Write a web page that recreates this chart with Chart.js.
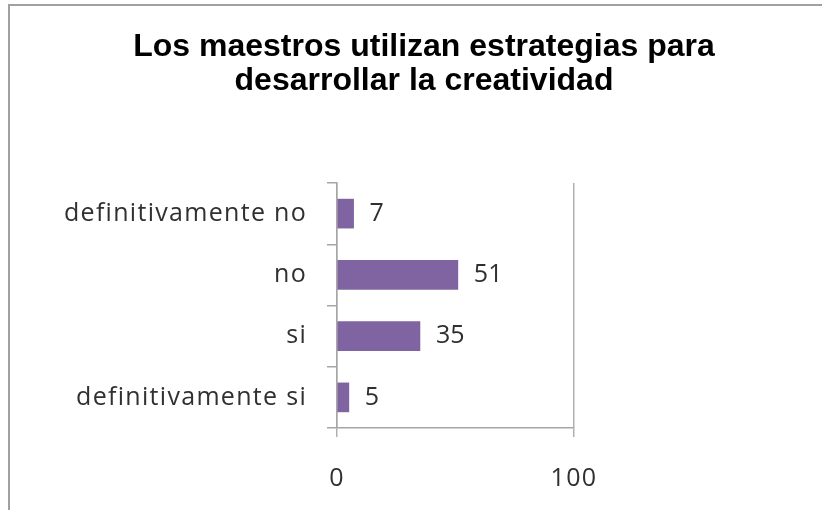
<!DOCTYPE html>
<html>
<head>
<meta charset="utf-8">
<script src="https://cdn.jsdelivr.net/npm/chart.js@4"></script>
<style>
html,body{margin:0;padding:0;background:#fff;}
#wrap{position:absolute;left:0;top:0;width:822px;height:510px;}
</style>
</head>
<body>
<div id="wrap"><canvas id="c" width="822" height="510"></canvas></div>
<script>
const titleLines = ["Los maestros utilizan estrategias para", "desarrollar la creatividad"];
const categories = ["definitivamente no", "no", "si", "definitivamente si"];
const values = [7, 51, 35, 5];
const xTicks = [0, 100];

const LABEL_FONT = "'Open Sans', Lato, sans-serif";
const LABEL_SIZE = 25;
const LABEL_COLOR = '#303030';

const framePlugin = {
  id: 'frame',
  beforeDraw(chart) {
    const ctx = chart.ctx;
    ctx.save();
    ctx.fillStyle = '#ffffff';
    ctx.fillRect(0, 0, chart.width, chart.height);
    ctx.strokeStyle = '#a0a0a0';
    ctx.lineWidth = 2;
    ctx.beginPath();
    ctx.moveTo(9, chart.height);
    ctx.lineTo(9, 5);
    ctx.lineTo(chart.width, 5);
    ctx.stroke();
    ctx.restore();
    ctx.letterSpacing = '1.3px';
  }
};

const titlePlugin = {
  id: 'customTitle',
  afterDraw(chart) {
    const ctx = chart.ctx;
    ctx.save();
    ctx.letterSpacing = '0px';
    ctx.fillStyle = '#000000';
    ctx.font = "bold 32px 'Liberation Sans', Arial, sans-serif";
    ctx.textAlign = 'center';
    ctx.textBaseline = 'alphabetic';
    ctx.fillText(titleLines[0], 424, 56);
    ctx.fillText(titleLines[1], 424, 90);
    ctx.restore();
  }
};

const valueLabelPlugin = {
  id: 'valueLabels',
  afterDatasetsDraw(chart) {
    const ctx = chart.ctx;
    const meta = chart.getDatasetMeta(0);
    ctx.save();
    ctx.letterSpacing = '0px';
    ctx.fillStyle = LABEL_COLOR;
    ctx.font = LABEL_SIZE + "px " + LABEL_FONT;
    ctx.textAlign = 'left';
    ctx.textBaseline = 'middle';
    meta.data.forEach((bar, i) => {
      ctx.fillText(String(values[i]), bar.x + 16, bar.y);
    });
    ctx.restore();
  }
};

new Chart(document.getElementById('c'), {
  type: 'bar',
  data: {
    labels: categories,
    datasets: [{
      data: values,
      backgroundColor: '#8064a2',
      borderWidth: 0,
      barThickness: 29
    }]
  },
  options: {
    indexAxis: 'y',
    responsive: false,
    animation: false,
    layout: { padding: { top: 183, left: 0, right: 248, bottom: 0 } },
    plugins: {
      legend: { display: false },
      tooltip: { enabled: false },
      title: { display: false }
    },
    scales: {
      x: {
        min: 0,
        max: 100,
        afterBuildTicks(scale) { scale.ticks = xTicks.map(v => ({ value: v })); },
        afterFit(scale) { scale.height = 82; },
        ticks: {
          color: LABEL_COLOR,
          font: { family: LABEL_FONT, size: LABEL_SIZE },
          padding: 27,
          maxRotation: 0
        },
        grid: {
          color: '#b0b0b0',
          lineWidth: 1.5,
          tickLength: 9,
          drawOnChartArea: true
        },
        border: { color: '#a6a6a6', width: 1.5 }
      },
      y: {
        afterFit(scale) { scale.width = 337; },
        ticks: {
          color: LABEL_COLOR,
          font: { family: LABEL_FONT, size: LABEL_SIZE },
          padding: 20
        },
        grid: {
          color: '#a6a6a6',
          lineWidth: 1.5,
          tickLength: 10,
          drawOnChartArea: false,
          offset: true
        },
        border: { color: '#a6a6a6', width: 1.5 }
      }
    }
  },
  plugins: [framePlugin, titlePlugin, valueLabelPlugin]
});
</script>
</body>
</html>
